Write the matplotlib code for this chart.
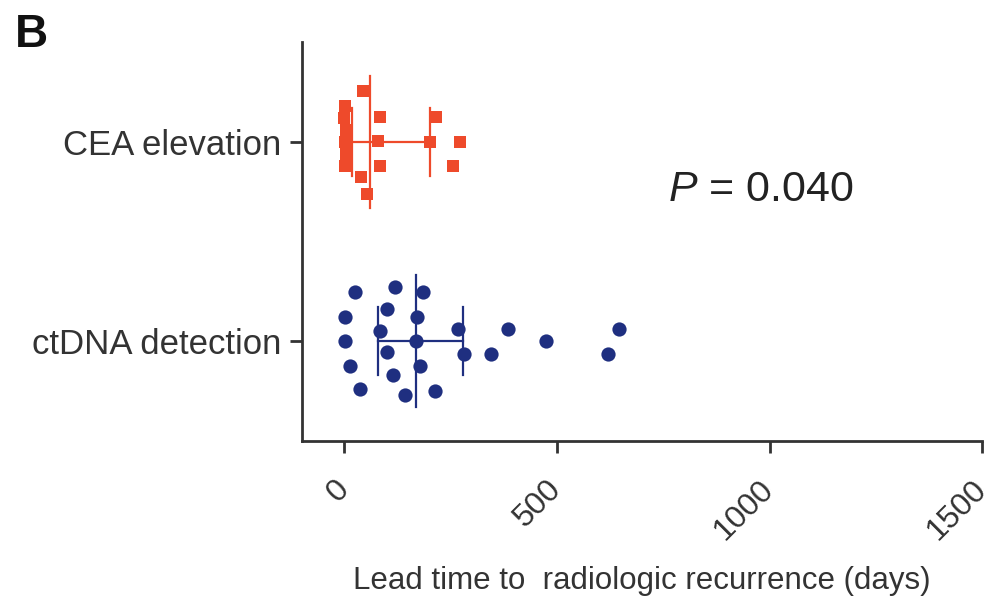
import matplotlib.pyplot as plt
import numpy as np

plt.rcParams['font.family'] = ['Liberation Sans', 'DejaVu Sans']
plt.rcParams['mathtext.fontset'] = 'custom'
plt.rcParams['mathtext.it'] = 'Liberation Sans:italic'
plt.rcParams['mathtext.rm'] = 'Liberation Sans'

# Werte (Tage)
categories = ['ctDNA detection', 'CEA elevation']

cea_days = [44, 83, 79, 83, 40, 52, 216, 200, 271, 255, 2, 0, 3, 1, 4, 2]
cea_jitter = [0.256, 0.126, 0.005, -0.12, -0.176, -0.261, 0.126, 0.0, 0.0, -0.12,
              0.18, 0.12, 0.06, 0.0, -0.06, -0.12]

ctdna_days = [24, 118, 185, 99, 1, 171, 83, 267, 384, 646, 1, 169, 474,
              99, 282, 345, 619, 12, 177, 114, 36, 142, 212]
ctdna_jitter = [0.246, 0.271, 0.246, 0.161, 0.121, 0.121, 0.05, 0.06, 0.06, 0.06,
                0.0, 0.0, 0.0, -0.055, -0.065, -0.065, -0.065, -0.126, -0.126,
                -0.171, -0.241, -0.271, -0.251]

# Median und Interquartilsabstand
cea_median, cea_iqr = 60, (17, 201)
ctdna_median, ctdna_iqr = 168, (79, 279)

red = '#ee4a2b'
blue = '#1f2f80'
dark = '#333333'

fig = plt.figure(figsize=(9.98, 5.99), dpi=100)
ax = fig.add_axes([0.3026, 0.2638, 0.6814, 0.6661])

def group(ypos, days, jitter, med, iqr, color, marker, size):
    ax.scatter(days, ypos + np.array(jitter), s=size, marker=marker, color=color,
               linewidths=0, zorder=3)
    ax.plot([iqr[0], iqr[1]], [ypos, ypos], color=color, lw=1.6, zorder=2)
    ax.plot([med, med], [ypos - 0.33, ypos + 0.33], color=color, lw=1.6, zorder=2)
    for q in iqr:
        ax.plot([q, q], [ypos - 0.17, ypos + 0.17], color=color, lw=1.6, zorder=2)

group(1, cea_days, cea_jitter, cea_median, cea_iqr, red, 's', 78)
group(0, ctdna_days, ctdna_jitter, ctdna_median, ctdna_iqr, blue, 'o', 105)

ax.set_xlim(-100, 1500)
ax.set_ylim(-0.5, 1.5)
ax.set_xticks([0, 500, 1000, 1500])
ax.set_yticks([0, 1])
ax.set_yticklabels(categories, fontsize=25, color='#333333')
ax.tick_params(axis='x', labelsize=23, length=8.5, width=2,
               color=dark, labelcolor='#333333', pad=23)
ax.tick_params(axis='y', length=9, width=2, color=dark, pad=6)
for lab in ax.get_xticklabels():
    lab.set_rotation(45)
    lab.set_rotation_mode('anchor')
    lab.set_ha('right')
    lab.set_va('center')

for s in ['top', 'right']:
    ax.spines[s].set_visible(False)
for s in ['left', 'bottom']:
    ax.spines[s].set_linewidth(2)
    ax.spines[s].set_color(dark)

ax.set_xlabel('Lead time to  radiologic recurrence (days)', fontsize=22.5,
              color='#333333', va='center')
ax.xaxis.set_label_coords(0.5, -0.35)

ax.text(761, 0.76, '$P$ = 0.040', fontsize=31, color='#222222', va='center')
fig.text(0.015, 0.978, 'B', fontsize=33, fontweight='bold', va='top', color='#111111')

fig.savefig('out.png', dpi=100)
